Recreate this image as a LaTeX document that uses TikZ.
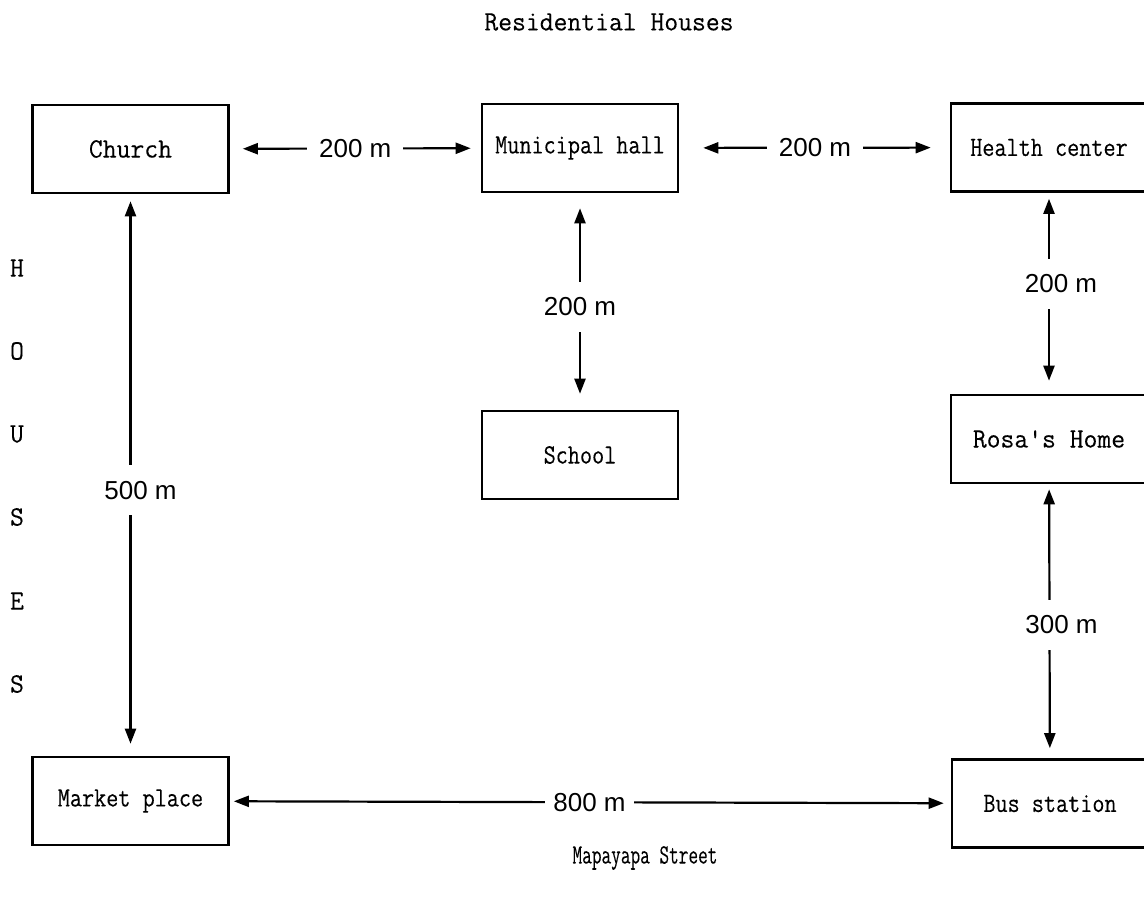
\documentclass[tikz,border=0pt]{standalone}
\usepackage{fontspec}
\setmainfont{Liberation Sans}
\newfontfamily\twfont{Latin Modern Mono}[FakeStretch=0.96, FakeBold=0.15]
\newfontfamily\twcfont{Latin Modern Mono}[FakeStretch=0.84, FakeBold=0.15]
\newfontfamily\twnfont{Latin Modern Mono}[FakeStretch=0.67, FakeBold=0.15]
\usetikzlibrary{arrows.meta}
\begin{document}
\begin{tikzpicture}[x=1pt,y=-1pt,
  place/.style={draw, line width=2.6pt, minimum width=196pt, minimum height=88pt, inner sep=0pt,
    font=\twcfont\fontsize{28}{32}\selectfont},
  plainplace/.style={place, font=\twfont\fontsize{28}{32}\selectfont},
  dist/.style={line width=2.2pt, {Triangle[length=15pt,width=11pt]}-{Triangle[length=15pt,width=11pt]}},
  lbl/.style={fill=white, font=\fontsize{26}{30}\selectfont, text height=18pt, text depth=0pt,
    inner xsep=12pt, inner ysep=16pt},
  tw/.style={font=\twfont\fontsize{28}{32}\selectfont},
  twn/.style={font=\twnfont\fontsize{28}{32}\selectfont}]
\useasboundingbox (0,0) rectangle (1144,905);
\fill[white] (0,0) rectangle (1144,905);

% places
\node[plainplace] (church) at (130.5,149) {Church};
\node[place] (muni) at (580,148) {Municipal hall};
\node[place] (health) at (1049,147.5) {Health center};
\node[place] (school) at (580,455) {School};
\node[plainplace] (rosa) at (1049,439) {Rosa's Home};
\node[place] (bus) at (1050,803.5) {Bus station};
\node[place] (market) at (130.5,801) {Market place};

% outer labels
\node[tw] (res) at (609,22) {Residential Houses};
\node[twn] (street) at (645,858) {Mapayapa Street};
\node[tw] (h1) at (17,268) {H};
\node[tw] (h2) at (17,351) {O};
\node[tw] (h3) at (17,434) {U};
\node[tw] (h4) at (17,517) {S};
\node[tw] (h5) at (17,601) {E};
\node[tw] (h6) at (17,684) {S};

% distances
\draw[dist, shorten <=13pt, shorten >=10pt] (church) -- (muni)
  node[lbl, pos=0.5] (d1) {200 m};
\draw[dist, shorten <=24pt, shorten >=19pt] (muni) -- (health)
  node[lbl, pos=0.502] (d2) {200 m};
\draw[dist, shorten <=15pt, shorten >=16pt] (muni) -- (school)
  node[lbl, pos=0.525] (d3) {200 m};
\draw[dist, shorten <=6pt, shorten >=13pt] (health) -- (rosa)
  node[lbl, pos=0.453, xshift=12pt] (d4) {200 m};
\draw[dist, shorten <=5pt, shorten >=10pt] (rosa) -- (bus)
  node[lbl, pos=0.513, xshift=12pt] (d5) {300 m};
\draw[dist, shorten <=7pt, shorten >=12pt] (church) -- (market)
  node[lbl, pos=0.527, xshift=10pt] (d6) {500 m};
\draw[dist, shorten <=4pt, shorten >=7pt] (market) -- (bus)
  node[lbl, pos=0.499, inner xsep=8pt] (d7) {800 m};
\end{tikzpicture}
\end{document}
